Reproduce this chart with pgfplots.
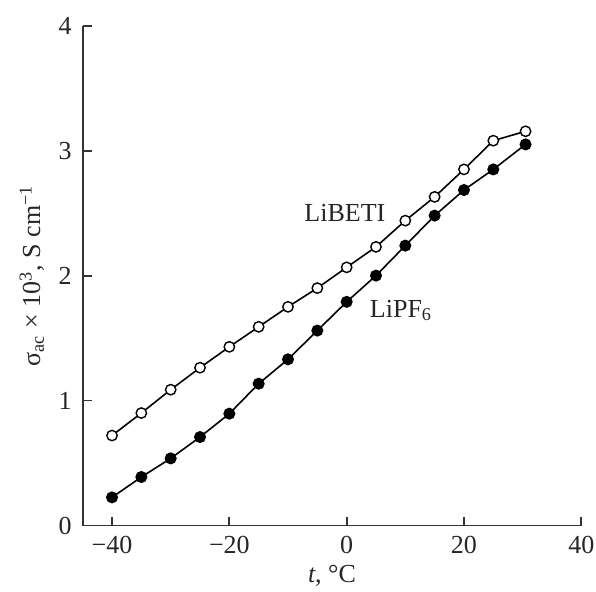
\documentclass[border=0pt]{standalone}
\usepackage{fontspec}
\setmainfont{Liberation Serif}
\usepackage{pgfplots}
\pgfplotsset{compat=1.18}
\definecolor{axgray}{HTML}{333333}
\begin{document}
\fontsize{13}{15}\selectfont
\begin{tikzpicture}[x=1pt,y=1pt]
\useasboundingbox (-41.35,-32.75) rectangle (256.65,262.75);
\begin{axis}[
  at={(0,0)}, anchor=south west,
  scale only axis, width=249.3pt, height=249.9pt,
  xmin=-45, xmax=40, ymin=0, ymax=4,
  axis lines*=left,
  axis line style={axgray, line width=0.9pt},
  tick style={axgray, line width=0.9pt},
  major tick length=4.5pt,
  tick align=inside,
  xtick={-40,-20,0,20,40},
  xticklabels={−40,−20,0,20,40},
  ytick={0,1,2,3,4},
  yticklabels={0,1,2,3,4},
  tick label style={font=\fontsize{13}{15}\selectfont, text=black!85},
  xticklabel style={yshift=-1pt},
  yticklabel style={xshift=-1pt},
  xlabel={\textit{t}, °C},
  ylabel={σ\textsubscript{ac} × 10\textsuperscript{3}, S cm\textsuperscript{−1}},
  label style={font=\fontsize{13}{15}\selectfont, text=black!85},
  xlabel style={at={(axis description cs:0.5,-0.1)}, anchor=center},
  ylabel style={at={(axis description cs:-0.102,0.5)}, anchor=center},
  clip=false,
]
\addplot[black, line width=0.8pt, mark=*, mark size=2.6pt, mark options={fill=white, line width=0.7pt}]
  coordinates {(-40,0.72) (-35,0.90) (-30,1.087) (-25,1.263) (-20,1.43) (-15,1.59) (-10,1.75) (-5,1.90) (0,2.066) (5,2.23) (10,2.44) (15,2.63) (20,2.85) (25,3.08) (30.5,3.155)};
\addplot[black, line width=0.8pt, mark=*, mark size=2.6pt, mark options={fill=black}]
  coordinates {(-40,0.225) (-35,0.388) (-30,0.537) (-25,0.708) (-20,0.895) (-15,1.135) (-10,1.33) (-5,1.56) (0,1.79) (5,2.00) (10,2.24) (15,2.48) (20,2.685) (25,2.85) (30.5,3.05)};
\node[anchor=base, inner sep=0pt, text=black!85] at (axis cs:-0.3,2.43) {LiBETI};
\node[anchor=base west, inner sep=0pt, text=black!85] at (axis cs:3.9,1.668) {LiPF\textsubscript{6}};
\end{axis}
\end{tikzpicture}
\end{document}
